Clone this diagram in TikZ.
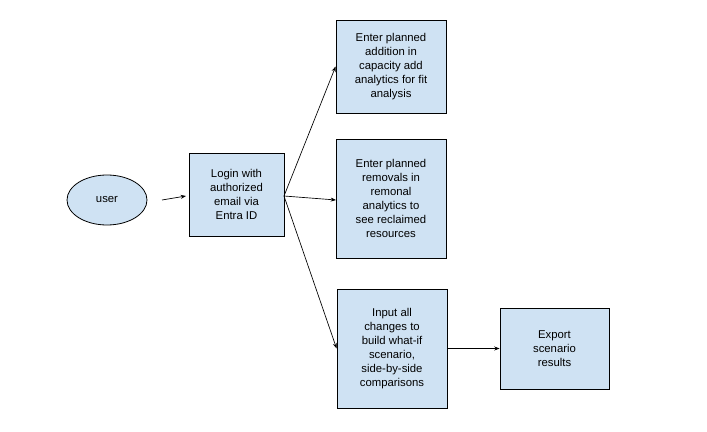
\documentclass[tikz,border=0pt]{standalone}
\usepackage{fontspec}
\setmainfont{Liberation Sans}
\usetikzlibrary{shapes.geometric,arrows.meta}
\definecolor{boxfill}{HTML}{CFE2F3}
\begin{document}
\begin{tikzpicture}[x=0.75pt,y=-0.75pt,
  box/.style={draw=black,fill=boxfill,line width=0.6pt,align=center,font=\fontsize{8.5}{10.5}\selectfont,inner sep=0pt},
  arr/.style={-{Stealth[length=4pt,width=3pt]},line width=0.5pt}]
\useasboundingbox (0,0) rectangle (707,432);
\node[ellipse,draw=black,fill=boxfill,line width=0.6pt,minimum width=80*0.75pt,minimum height=50*0.75pt,inner sep=0pt,font=\fontsize{8.5}{10.5}\selectfont] (user) at (107,200) {user};
\node[box,minimum width=95*0.75pt,minimum height=83*0.75pt] (login) at (236.5,194.5) {Login with\\authorized\\email via\\Entra ID};
\node[box,minimum width=110*0.75pt,minimum height=93*0.75pt] (b1) at (391,66.5) {Enter planned\\addition in\\capacity add\\analytics for fit\\analysis};
\node[box,minimum width=110*0.75pt,minimum height=119*0.75pt] (b2) at (391,198.5) {Enter planned\\removals in\\remonal\\analytics to\\see reclaimed\\resources};
\node[box,minimum width=110*0.75pt,minimum height=119*0.75pt] (b3) at (392,348.5) {Input all\\changes to\\build what-if\\scenario,\\side-by-side\\comparisons};
\node[box,minimum width=109*0.75pt,minimum height=81*0.75pt] (b4) at (554.5,348.5) {Export\\scenario\\results};
\coordinate (u1) at (162,200);
\coordinate (l1) at (186,196);
\draw[arr] (u1) -- (l1);
\coordinate (lo) at (284,196);
\draw[arr] (lo) -- (b1.west);
\draw[arr] (lo) -- (336,200);
\draw[arr] (lo) -- (b3.west);
\draw[arr] (b3.east) -- (b4.west);
\end{tikzpicture}
\end{document}
